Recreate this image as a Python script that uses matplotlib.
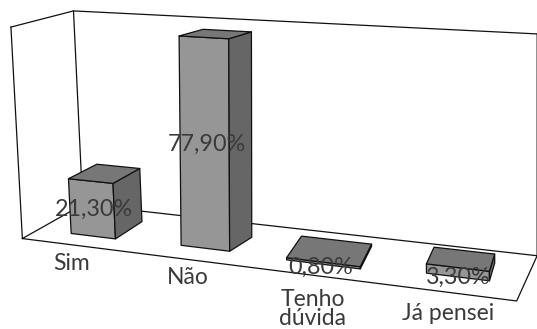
import numpy as np
import matplotlib
matplotlib.use("Agg")
import matplotlib.pyplot as plt
from matplotlib.patches import Polygon

categories = ["Sim", "Não", "Tenho\ndúvida", "Já pensei"]
values = [21.3, 77.9, 0.8, 3.3]
value_labels = ["21,30%", "77,90%", "0,80%", "3,30%"]

# footprint of each bar on the floor (category units, depth 0 = front, 1 = back)
BAR_LEFT = [0.31, 1.29, 2.20, 3.28]
BAR_RIGHT = [0.72, 1.71, 2.79, 3.75]
BAR_FRONT = [0.25, 0.286, 0.25, 0.33]
BAR_BACK = [0.733, 0.664, 0.78, 0.72]
# sideways lean of the rear edge, the flat bars sit less skewed
BACK_SHIFT = [0.0, 0.04, -0.06, -0.03]
# the tall bar stands straighter than the side walls
TOP_SHIFT = [0.0, 0.05, 0.0, 0.0]

N_CAT = 4
V_MAX = 80.0

# where the corners of the chart box land on the page: (x, depth, value) -> (px, py)
BOX_CORNERS = [
    ((0, 0, 0), (23, 237)),
    ((0, 1, 0), (82, 206)),
    ((N_CAT, 0, 0), (517, 301.7)),
    ((N_CAT, 1, 0), (537, 255)),
    ((0, 0, V_MAX), (10, 28)),
    ((0, 1, V_MAX), (74.5, 10)),
    ((N_CAT, 1, V_MAX), (537, 34)),
]

# page positions of the texts
VALUE_POS = [(94, 209), (207, 144), (321, 267), (458, 277)]
CAT_POS = [(72, 264), (188, 278), (313, 309), (448, 313)]

FRONT = "#969696"
SIDE = "#666666"
TOP = "#777777"
TEXT = "#3a3a3a"
LINE = "#111111"

plt.rcParams["font.family"] = ["Lato", "DejaVu Sans"]


def camera_matrix(corners):
    # perspective camera from the box corners, direct linear transform
    rows = []
    for (x, d, v), (px, py) in corners:
        p = [x / N_CAT, d, v / V_MAX, 1]
        rows.append(p + [0, 0, 0, 0] + [-px * c for c in p])
        rows.append([0, 0, 0, 0] + p + [-py * c for c in p])
    _, _, vt = np.linalg.svd(np.array(rows, dtype=float))
    return vt[-1].reshape(3, 4)


P = camera_matrix(BOX_CORNERS)


def project(x, d, v):
    h = P @ np.array([x / N_CAT, d, v / V_MAX, 1.0])
    return h[0] / h[2], h[1] / h[2]


def face(ax, pts, color, z):
    ax.add_patch(Polygon([project(*p) for p in pts], closed=True, facecolor=color,
                         edgecolor=LINE, linewidth=0.9, joinstyle="round", zorder=z))


def draw_box(ax):
    outline = [
        [(0, 0, V_MAX), (0, 1, V_MAX), (N_CAT, 1, V_MAX)],
        [(0, 0, V_MAX), (0, 0, 0), (N_CAT, 0, 0), (N_CAT, 1, 0), (0, 1, 0), (0, 0, 0)],
        [(0, 1, V_MAX), (0, 1, 0)],
        [(N_CAT, 1, V_MAX), (N_CAT, 1, 0)],
    ]
    for path in outline:
        xy = np.array([project(*p) for p in path])
        ax.plot(xy[:, 0], xy[:, 1], color=LINE, lw=0.9, zorder=1)


def draw_bar(ax, i):
    x0, x1 = BAR_LEFT[i], BAR_RIGHT[i]
    b0, b1 = x0 + BACK_SHIFT[i], x1 + BACK_SHIFT[i]
    t = TOP_SHIFT[i]
    d0, d1 = BAR_FRONT[i], BAR_BACK[i]
    v = values[i]
    face(ax, [(x0, d0, 0), (x1, d0, 0), (x1 + t, d0, v), (x0 + t, d0, v)], FRONT, 2 + i)
    face(ax, [(x1, d0, 0), (b1, d1, 0), (b1 + t, d1, v), (x1 + t, d0, v)], SIDE, 2 + i)
    face(ax, [(x0 + t, d0, v), (x1 + t, d0, v), (b1 + t, d1, v), (b0 + t, d1, v)], TOP, 2 + i)


fig = plt.figure(figsize=(5.37, 3.29), dpi=100)
ax = fig.add_axes([0, 0, 1, 1])
ax.set_xlim(0, 537)
ax.set_ylim(329, 0)
ax.axis("off")

draw_box(ax)
for i in range(len(values)):
    draw_bar(ax, i)

for label, (px, py) in zip(value_labels, VALUE_POS):
    ax.text(px, py, label, fontsize=16.8, color=TEXT,
            ha="center", va="center", zorder=10)

for label, (px, py) in zip(categories, CAT_POS):
    ax.text(px, py, label, fontsize=16.5, color=TEXT,
            ha="center", va="center", linespacing=0.85, zorder=10)

fig.savefig("out.png", dpi=100)
